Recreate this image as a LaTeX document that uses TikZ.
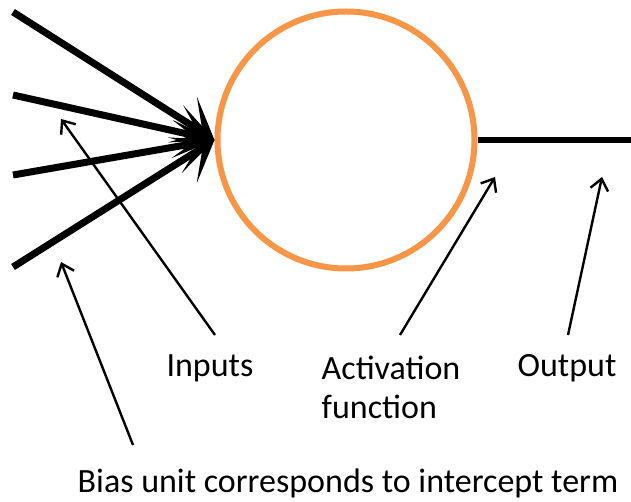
\documentclass[tikz,border=0pt]{standalone}
\usepackage{fontspec}
\setmainfont{Carlito}
\usetikzlibrary{arrows.meta}
\definecolor{ringorange}{RGB}{247,150,70}
\tikzset{
  inline/.style={line width=7pt,-{Stealth[length=38pt,width=54pt,inset=24pt]}},
  outline/.style={line width=6pt},
  pointer/.style={line width=2.4pt,-{Straight Barb[length=11pt,width=18pt]}},
  label/.style={font=\fontsize{34}{39}\selectfont,inner sep=0pt,align=left},
}
\begin{document}
\begin{tikzpicture}[x=1pt,y=-1pt]
\useasboundingbox (0,0) rectangle (631,502);
\fill[white] (0,0) rectangle (631,502);
\node[circle,draw=ringorange,line width=6pt,minimum size=257pt,inner sep=0pt] (neuron) at (346,140) {};
\coordinate (in1) at (13,12);
\coordinate (in2) at (13,95);
\coordinate (in3) at (13,175);
\coordinate (in4) at (13,267);
\coordinate (outend) at (631,140);
\foreach \c in {in1,in2,in3,in4} \draw[inline] (\c) -- (neuron.west);
\draw[outline] (neuron.east) -- (outend);
\node[label] (inputs) at (210,368) {Inputs};
\node[label] (activation) at (391,387) {Activation\\function};
\node[label] (output) at (567,368) {Output};
\node[label] (bias) at (348,483) {Bias unit corresponds to intercept term};
\coordinate (biastail) at (133,445);
\coordinate (biastip) at (61,262);
\coordinate (inputstail) at (215,335);
\coordinate (inputstip) at (61,119);
\coordinate (acttail) at (400,335);
\coordinate (acttip) at (495,177);
\coordinate (outtail) at (568,335);
\coordinate (outtip) at (602,177);
\draw[pointer] (biastail) -- (biastip);
\draw[pointer] (inputstail) -- (inputstip);
\draw[pointer] (acttail) -- (acttip);
\draw[pointer] (outtail) -- (outtip);
\end{tikzpicture}
\end{document}
